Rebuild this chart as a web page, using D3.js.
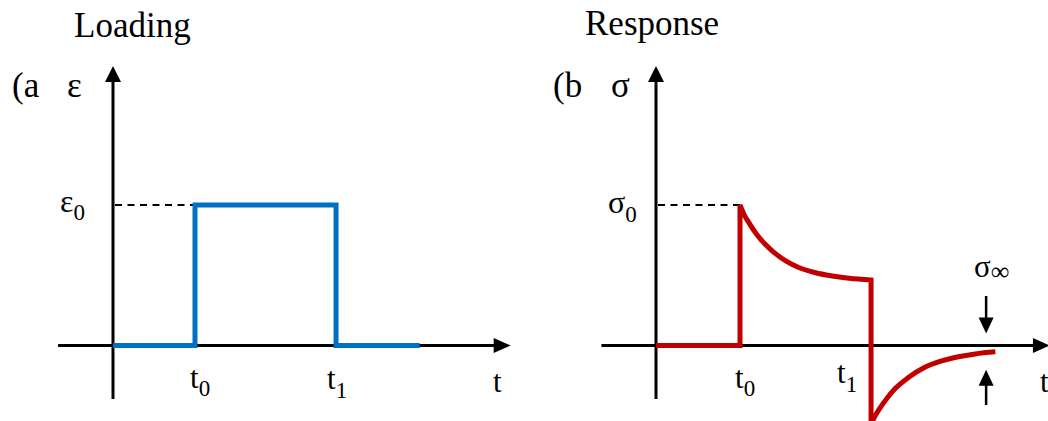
<!DOCTYPE html>
<html>
<head>
<meta charset="utf-8">
<script src="https://d3js.org/d3.v7.min.js"></script>
<style>
  body { margin: 0; background: #fff; }
  svg { display: block; font-family: "Liberation Serif", "Times New Roman", serif; }
</style>
</head>
<body>
<div id="chart"></div>
<script>
// panel (a) - strain step loading (t in units of t0, eps in units of eps0)
var loadT   = [0, 1, 1, 2.72, 2.72, 3.74];
var loadEps = [0, 0, 1, 1, 0, 0];

// panel (b) - stress response, split in straight and curved pieces
var stepT      = [0, 1, 1];
var stepSig    = [0, 0, 1];
var decayT     = [1, 1.05, 1.1, 1.2, 1.3, 1.4, 1.55, 1.7, 1.9, 2.1, 2.3, 2.56];
var decaySig   = [1, 0.93, 0.88, 0.79, 0.72, 0.665, 0.6, 0.555, 0.518, 0.495, 0.478, 0.466];
var recoverT   = [2.56, 2.6, 2.65, 2.75, 2.85, 3.0, 3.2, 3.4, 3.6, 3.8, 4.04];
var recoverSig = [-0.56, -0.51, -0.46, -0.375, -0.305, -0.23, -0.155, -0.11, -0.08, -0.06, -0.045];

var t1a = 2.72, t1b = 2.56;
var sigInf = -0.045;

var W = 1048, H = 421;
var svg = d3.select("#chart").append("svg")
    .attr("width", W).attr("height", H)
    .style("overflow", "hidden");

// scales
var xa = d3.scaleLinear().domain([0, 1]).range([113, 195]);
var xb = d3.scaleLinear().domain([0, 1]).range([656, 740]);
var y  = d3.scaleLinear().domain([0, 1]).range([345.5, 205]);

function arrow(x1, y1, x2, y2, len, wid, sw) {
    var dx = x2 - x1, dy = y2 - y1, L = Math.sqrt(dx*dx + dy*dy);
    var ux = dx / L, uy = dy / L;
    var bx = x2 - ux * len, by = y2 - uy * len;
    svg.append("line")
        .attr("x1", x1).attr("y1", y1).attr("x2", bx + ux).attr("y2", by + uy)
        .attr("stroke", "#000").attr("stroke-width", sw);
    svg.append("polygon")
        .attr("points", [[x2, y2], [bx - uy * wid / 2, by + ux * wid / 2], [bx + uy * wid / 2, by - ux * wid / 2]].map(p => p.join(",")).join(" "))
        .attr("fill", "#000");
}

function label(x, yb, main, sub, size, subSize, subDy, anchor) {
    var t = svg.append("text")
        .attr("x", x).attr("y", yb)
        .attr("text-anchor", anchor || "start")
        .style("font-size", size + "px");
    t.append("tspan").text(main);
    if (sub) t.append("tspan").attr("dy", subDy).style("font-size", subSize + "px").text(sub);
}

// ---------- panel (a) ----------
arrow(xa(-0.67), y(0), xa(4.85), y(0), 17, 15, 3);
arrow(xa(0), y(-0.38), xa(0), y(1.99), 16, 16, 3);

svg.append("line")
    .attr("x1", xa(0) + 2).attr("x2", xa(1)).attr("y1", y(1)).attr("y2", y(1))
    .attr("stroke", "#000").attr("stroke-width", 2).attr("stroke-dasharray", "7,5.5");

svg.append("path")
    .datum(loadT.map((t, i) => [t, loadEps[i]]))
    .attr("d", d3.line().x(d => xa(d[0])).y(d => y(d[1])))
    .attr("fill", "none").attr("stroke", "#0070C0").attr("stroke-width", 5)
    .attr("stroke-linejoin", "miter");

svg.append("text").attr("x", 74).attr("y", 37).style("font-size", "35px").text("Loading");
svg.append("text").attr("x", 12).attr("y", 97).style("font-size", "35px").text("(a");
svg.append("text").attr("x", 67).attr("y", 97).style("font-size", "35px").text("ε");

label(xa(0) - 53, y(1) + 7, "ε", "0", 32, 23, 8);
label(xa(1) - 5, 388, "t", "0", 31, 23, 8);
label(xa(t1a) - 9, 389, "t", "1", 31, 23, 9);
svg.append("text").attr("x", 493).attr("y", 392).style("font-size", "31px").text("t");

// ---------- panel (b) ----------
arrow(xb(-0.65), y(0), xb(4.69), y(0), 17, 15, 3);
arrow(xb(0), y(-0.38), xb(0), y(1.99), 16, 16, 3);

svg.append("line")
    .attr("x1", xb(0) + 2).attr("x2", xb(1)).attr("y1", y(1)).attr("y2", y(1))
    .attr("stroke", "#000").attr("stroke-width", 2).attr("stroke-dasharray", "7,5.5");

var straight = d3.line().x(d => xb(d[0])).y(d => y(d[1]));
var smooth = d3.line().x(d => xb(d[0])).y(d => y(d[1])).curve(d3.curveMonotoneX);
var pieces = [
    straight(stepT.map((t, i) => [t, stepSig[i]])),
    smooth(decayT.map((t, i) => [t, decaySig[i]])),
    straight([[t1b, decaySig[decaySig.length - 1]], [t1b, recoverSig[0]]]),
    smooth(recoverT.map((t, i) => [t, recoverSig[i]]))
];
svg.append("path")
    .attr("d", pieces.map((s, i) => i ? s.replace(/^M/, "L") : s).join(""))
    .attr("fill", "none").attr("stroke", "#C00000").attr("stroke-width", 5)
    .attr("stroke-linejoin", "miter");

svg.append("text").attr("x", 585).attr("y", 35).style("font-size", "35px").text("Response");
svg.append("text").attr("x", 553).attr("y", 97).style("font-size", "35px").text("(b");
svg.append("text").attr("x", 611).attr("y", 97).style("font-size", "35px").text("σ");

label(xb(0) - 48, y(1) + 8, "σ", "0", 32, 23, 9);
label(xb(1) - 5, 388, "t", "0", 31, 23, 8);
label(xb(t1b) - 34, 383, "t", "1", 31, 23, 9);
svg.append("text").attr("x", 1040).attr("y", 392).style("font-size", "31px").text("t");

// sigma infinity markers
var xInf = xb(3.93);
label(xInf - 12, 277, "σ", "∞", 31, 26, 3);
arrow(xInf, 296, xInf, y(0) - 12, 16, 15, 2.5);
arrow(xInf, 405, xInf, y(sigInf) + 18, 16, 15, 2.5);
</script>
</body>
</html>
